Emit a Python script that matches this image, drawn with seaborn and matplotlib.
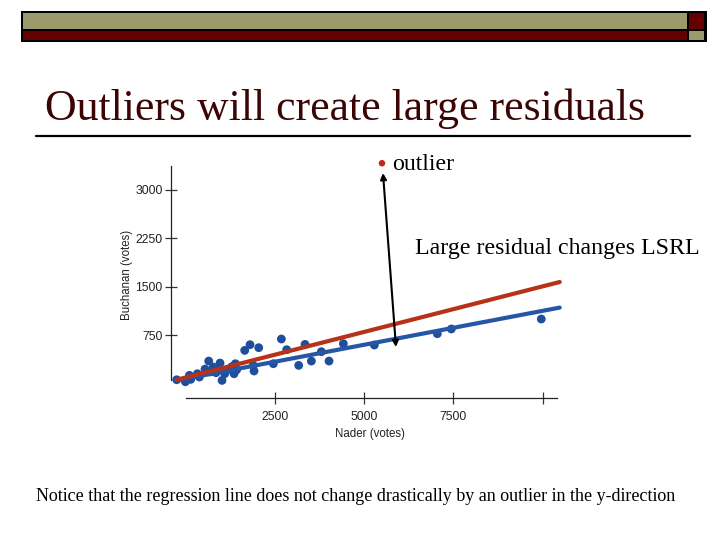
import matplotlib
matplotlib.use("Agg")
import matplotlib.pyplot as plt
from matplotlib.patches import Rectangle
import numpy as np
import pandas as pd
import seaborn as sns

# ---- data ----
nader = [-243, 0, 112, 149, 336, 392, 550, 653, 784, 858, 896, 970, 1026, 1101,
         1362, 1400, 1437, 1661, 1810, 1922, 2053, 1900, 2463, 2687, 2836, 3172,
         3349, 3527, 3807, 4021, 4422, 5290, 7053, 7445, 9964, 700, 1200, 1300]
buchanan = [58, 27, 126, 64, 151, 100, 223, 347, 254, 167, 213, 316, 48, 151,
            151, 306, 213, 512, 600, 193, 554, 280, 306, 688, 523, 280,
            605, 347, 492, 347, 616, 595, 770, 843, 997, 180, 220, 260]
outlier_x = [5504]
outlier_y = [3407]
# least-squares lines: (intercept, slope)
fit_without = (73.5, 0.105)
fit_with = (92.0, 0.141)
line_x = [-243, 10480]

yticks = [750, 1500, 2250, 3000]
xticks = [2500, 5000, 7500, 10000]
xticklabels = ["2500", "5000", "7500", ""]

title = "Outliers will create large residuals"
note = "Notice that the regression line does not change drastically by an outlier in the y-direction"

# ---- figure ----
sns.set_style("ticks")
plt.rcParams["font.family"] = ["Liberation Sans", "DejaVu Sans"]

W, H = 720, 540
fig = plt.figure(figsize=(7.2, 5.4), dpi=100)

def fx(px):
    return px / W

def fy(py):
    return 1 - py / H

# header bars
olive = "#9c9a6a"
maroon = "#640000"
fig.patches.append(Rectangle((fx(21), fy(41.7)), fx(706.7 - 21), (41.7 - 11) / H,
                             transform=fig.transFigure, facecolor="black", edgecolor="none"))
fig.patches.append(Rectangle((fx(22.7), fy(29.3)), fx(686.7 - 22.7), (29.3 - 12.7) / H,
                             transform=fig.transFigure, facecolor=olive, edgecolor="none"))
fig.patches.append(Rectangle((fx(22.7), fy(40)), fx(686.7 - 22.7), (40 - 31) / H,
                             transform=fig.transFigure, facecolor=maroon, edgecolor="none"))
fig.patches.append(Rectangle((fx(689), fy(29.3)), fx(704.3 - 689), (29.3 - 12.7) / H,
                             transform=fig.transFigure, facecolor=maroon, edgecolor="none"))
fig.patches.append(Rectangle((fx(689), fy(40)), fx(704.3 - 689), (40 - 31) / H,
                             transform=fig.transFigure, facecolor=olive, edgecolor="none"))

# title and rule
fig.text(fx(45), fy(120), title, family="Liberation Serif", fontsize=31.6,
         color="#3c0505", va="baseline", ha="left")
fig.add_artist(plt.Line2D([fx(36), fx(690)], [fy(136), fy(136)], color="black",
                          lw=1.6, transform=fig.transFigure))

# axes
ax = fig.add_axes([fx(171.1), fy(398.3), fx(564 - 171.1), (398.3 - 157.2) / H])
ax.set_xlim(-400, 10600)
ax.set_ylim(-229, 3500)

df = pd.DataFrame({"Nader": nader, "Buchanan": buchanan})
sns.scatterplot(data=df, x="Nader", y="Buchanan", ax=ax, color="#1f4f9b",
                s=40, edgecolor="none", zorder=2)

lx = np.array(line_x, dtype=float)
sns.lineplot(x=lx, y=fit_without[0] + fit_without[1] * lx, ax=ax,
             color="#2657a6", lw=3.0, zorder=3)
sns.lineplot(x=lx, y=fit_with[0] + fit_with[1] * lx, ax=ax,
             color="#b8321a", lw=3.0, zorder=4)

sns.scatterplot(x=outlier_x, y=outlier_y, ax=ax, color="#c0281c", s=22,
                edgecolor="none", zorder=5, clip_on=False)

ax.annotate("", xy=(5532, 3255), xytext=(5896, 564),
            arrowprops=dict(arrowstyle="<|-|>", color="black", lw=1.5,
                            mutation_scale=9, shrinkA=0, shrinkB=0), zorder=6)

ax.set_xticks(xticks)
ax.set_xticklabels(xticklabels)
ax.set_yticks(yticks)
ax.tick_params(axis="both", direction="inout", length=8, width=0.9,
               labelsize=8.8, labelcolor="#222222", color="#333333")
ax.tick_params(axis="y", pad=2)
ax.tick_params(axis="x", pad=5)
for side in ["top", "right"]:
    ax.spines[side].set_visible(False)
ax.spines["left"].set_bounds(54, 3363)
ax.spines["bottom"].set_bounds(17, 10395)
for side in ["left", "bottom"]:
    ax.spines[side].set_color("#222222")
    ax.spines[side].set_linewidth(0.9)

ax.set_xlabel("Nader (votes)", fontsize=8.3, color="#222222", labelpad=4)
ax.set_ylabel("Buchanan (votes)", fontsize=8.3, color="#222222", labelpad=4)
ax.xaxis.set_label_coords((370 - 171.1) / (564 - 171.1), -(434 - 398.3) / (398.3 - 157.2))
ax.yaxis.set_label_coords(-(171.1 - 127) / (564 - 171.1), (398.3 - 275) / (398.3 - 157.2))
ax.xaxis.label.set_verticalalignment("center")
ax.yaxis.label.set_verticalalignment("center")

# annotation texts
fig.text(fx(392), fy(164.5), "outlier", family="Liberation Serif", fontsize=17.2,
         color="black", va="center", ha="left")
fig.text(fx(415), fy(248.5), "Large residual changes LSRL", family="Liberation Serif",
         fontsize=17.2, color="black", va="center", ha="left")
fig.text(fx(36), fy(496.5), note, family="Liberation Serif", fontsize=13.0,
         color="black", va="center", ha="left")

fig.savefig("out.png", dpi=100)
